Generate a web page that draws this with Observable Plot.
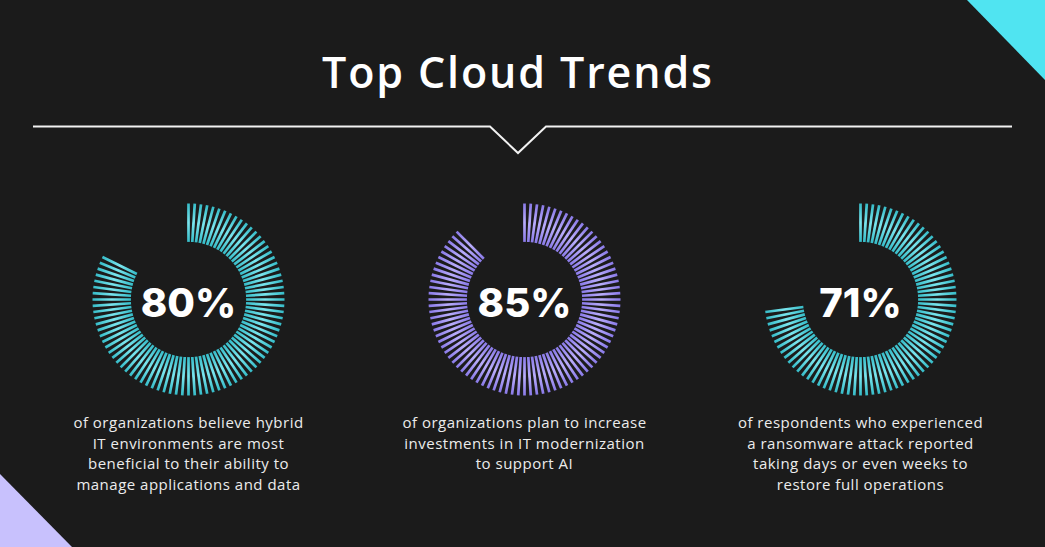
<!DOCTYPE html>
<html><head><meta charset="utf-8">
<script src="https://cdn.jsdelivr.net/npm/d3@7"></script>
<script src="https://cdn.jsdelivr.net/npm/@observablehq/plot@0.6"></script>
<style>
html,body{margin:0;padding:0;background:#1b1b1b;}
#wrap{position:relative;width:1045px;height:547px;overflow:hidden;background:#1b1b1b;}
#deco{position:absolute;left:0;top:0;}
#chart{position:absolute;left:0;top:190px;}
</style></head>
<body><div id="wrap">
<svg id="deco" width="1045" height="547">
  <polygon points="967,0 1045,0 1045,80" fill="#50e4f1"/>
  <polygon points="0,474 0,547 72,547" fill="#c8c1fd"/>
  <polyline points="33,126.5 490,126.5 518,153 546,126.5 1012,126.5" fill="none" stroke="#f2f2f2" stroke-width="2"/>
  <text id="title" x="517" y="88" text-anchor="middle" fill="#ffffff" font-family="Open Sans" font-weight="600" font-size="43" textLength="390" lengthAdjust="spacing">Top Cloud Trends</text>
</svg>
<div id="chart"></div>
</div>
<script>
// ---- data ----
const keys = ["hybrid", "ai", "ransomware"];
const values = [80, 85, 71];
const labels = ["80%", "85%", "71%"];
const palettes = ["cyan", "lavender", "cyan"];
const descriptions = [
  "of organizations believe hybrid\nIT environments are most\nbeneficial to their ability to\nmanage applications and data",
  "of organizations plan to increase\ninvestments in IT modernization\nto support AI",
  "of respondents who experienced\na ransomware attack reported\ntaking days or even weeks to\nrestore full operations"
];

// ---- geometry constants (style) ----
const STEP_DEG = 360 / 96;   // angular spacing of the tick bars
const R0 = 0.6, R1 = 1;      // inner / outer radius in ring units
const PX = 96;               // pixels per ring unit
const H = 310, CY = 109, HALF = 168;

const stats = keys.map((k, i) => ({key: k, value: values[i], label: labels[i], desc: descriptions[i], palette: palettes[i]}));
const ticks = stats.flatMap(s => d3.range(s.value).map(j => {
  const a = j * STEP_DEG * Math.PI / 180;
  return {key: s.key, palette: s.palette,
    x1: R0 * Math.sin(a), y1: R0 * Math.cos(a),
    x2: R1 * Math.sin(a), y2: R1 * Math.cos(a)};
}));

const chart = Plot.plot({
  width: 1045, height: H,
  marginLeft: 20, marginRight: 17, marginTop: 0, marginBottom: 0,
  fx: {domain: keys, padding: 0, axis: null},
  x: {domain: [-HALF / PX, HALF / PX], axis: null},
  y: {domain: [-(H - CY) / PX, CY / PX], axis: null},
  style: {background: "transparent", color: "#ffffff", overflow: "visible"},
  marks: [
    Plot.link(ticks.filter(d => d.palette === "cyan"), {fx: "key", x1: "x1", y1: "y1", x2: "x2", y2: "y2", stroke: "url(#grad-cyan)", strokeWidth: 2.7, strokeLinecap: "butt"}),
    Plot.link(ticks.filter(d => d.palette === "lavender"), {fx: "key", x1: "x1", y1: "y1", x2: "x2", y2: "y2", stroke: "url(#grad-lav)", strokeWidth: 2.7, strokeLinecap: "butt"}),
    Plot.text(stats, {fx: "key", x: 0, y: 0, text: "label", fill: "#ffffff", fontSize: 40, fontWeight: 800, fontFamily: "Inter", dy: 5}),
    Plot.text(stats, {fx: "key", text: "desc", frameAnchor: "top", lineAnchor: "top", fill: "#ececec", fontSize: 15, lineHeight: 20.5 / 15, fontFamily: "Open Sans", dy: 223})
  ]
});

// slight tracking on the multi-line description text, like the reference's wide font
d3.select(chart).selectAll("text")
  .filter(function () { return this.querySelector("tspan") !== null; })
  .attr("letter-spacing", "0.5px");

// radial gradients centred on each ring (same local coordinates in every facet)
const sx = chart.scale("x"), sy = chart.scale("y");
const cx = sx.apply(0), cy = sy.apply(0), rr = sx.apply(R1) - sx.apply(0);
const defs = d3.select(chart).insert("defs", ":first-child");
function grad(id, inner, outer) {
  const g = defs.append("radialGradient").attr("id", id).attr("gradientUnits", "userSpaceOnUse")
    .attr("cx", cx).attr("cy", cy).attr("r", rr);
  g.append("stop").attr("offset", R0).attr("stop-color", inner);
  g.append("stop").attr("offset", 0.8).attr("stop-color", outer);
  g.append("stop").attr("offset", 1).attr("stop-color", inner);
}
grad("grad-cyan", "#36bcc8", "#7ae5ee");
grad("grad-lav", "#8a7ae8", "#b9adfb");

document.getElementById("chart").appendChild(chart);
</script>
</body></html>
